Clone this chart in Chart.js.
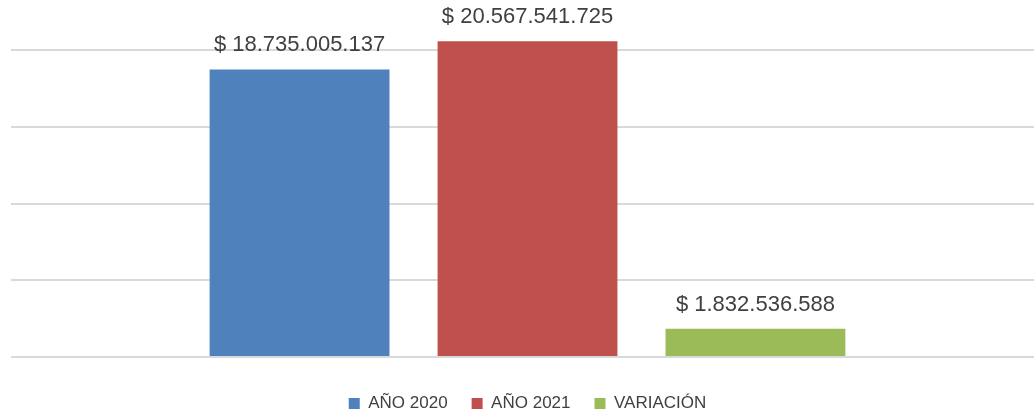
<!DOCTYPE html>
<html>
<head>
<meta charset="utf-8">
<script src="https://cdn.jsdelivr.net/npm/chart.js@4/dist/chart.umd.min.js"></script>
<style>
  html, body { margin: 0; padding: 0; background: #fff; overflow: hidden; }
  #wrap { width: 1044px; height: 417px; position: relative; }
</style>
</head>
<body>
<div id="wrap"><canvas id="chart"></canvas></div>
<script>
// Comparativo de ingresos por año
const categories = [''];
const seriesNames = ['AÑO 2020', 'AÑO 2021', 'VARIACIÓN'];
const seriesValues = [18735005137, 20567541725, 1832536588];
const seriesColors = ['#4F81BD', '#C0504D', '#9BBB59'];

function pesos(v) {
    return '$ ' + String(v).replace(/\B(?=(\d{3})+(?!\d))/g, '.');
}

// etiquetas de valor encima de cada barra
const valueLabels = {
    id: 'valueLabels',
    afterDatasetsDraw(chart) {
        const ctx = chart.ctx;
        ctx.save();
        ctx.font = '22px "Liberation Sans", Arial, sans-serif';
        ctx.fillStyle = '#404040';
        ctx.textAlign = 'center';
        ctx.textBaseline = 'alphabetic';
        chart.data.datasets.forEach((ds, i) => {
            chart.getDatasetMeta(i).data.forEach((bar, j) => {
                ctx.fillText(pesos(ds.data[j]), bar.x, bar.y - 18);
            });
        });
        ctx.restore();
    }
};

const datasets = seriesNames.map((name, i) => ({
    label: name,
    data: [seriesValues[i]],
    backgroundColor: seriesColors[i],
    borderWidth: 0,
    clip: false,
    barPercentage: 0.789,
    categoryPercentage: 0.662
}));

new Chart(document.getElementById('chart'), {
    type: 'bar',
    data: { labels: categories, datasets: datasets },
    options: {
        responsive: true,
        maintainAspectRatio: false,
        animation: false,
        layout: { padding: { left: 11, right: 0, top: 50, bottom: -5 } },
        plugins: {
            tooltip: { enabled: false },
            legend: {
                position: 'bottom',
                labels: {
                    boxWidth: 11,
                    boxHeight: 11,
                    padding: 24,
                    color: '#404040',
                    font: { family: '"Liberation Sans", Arial, sans-serif', size: 17 }
                }
            }
        },
        scales: {
            x: {
                grid: { display: false },
                border: { display: false },
                ticks: { display: false },
                afterFit(scale) { scale.height = 14; }
            },
            y: {
                min: 0,
                max: 20000000000,
                ticks: { display: false, stepSize: 5000000000 },
                border: { display: false },
                grid: { color: '#d9d9d9', lineWidth: 2, drawTicks: false }
            }
        }
    },
    plugins: [valueLabels]
});
</script>
</body>
</html>
